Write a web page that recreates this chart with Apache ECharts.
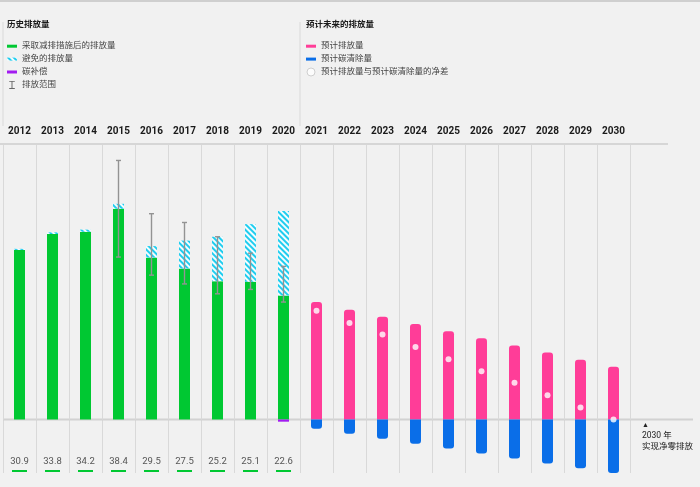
<!DOCTYPE html>
<html>
<head>
<meta charset="utf-8">
<script src="https://cdn.jsdelivr.net/npm/echarts@6/dist/echarts.min.js"></script>
<style>
  html, body { margin: 0; padding: 0; background: #f1f1f1; }
  #main { width: 700px; height: 487px; }
</style>
</head>
<body>
<div id="main"></div>
<script>
// 数据
var years = ['2012', '2013', '2014', '2015', '2016', '2017', '2018', '2019', '2020',
             '2021', '2022', '2023', '2024', '2025', '2026', '2027', '2028', '2029', '2030'];
var reduced   = [30.9, 33.8, 34.2, 38.4, 29.5, 27.5, 25.2, 25.1, 22.6];   // 采取减排措施后的排放量
var avoided   = [0.2, 0.3, 0.4, 0.9, 2.1, 5.1, 8.1, 10.5, 15.4];         // 避免的排放量
var offsets   = ['-', '-', '-', '-', '-', '-', '-', '-', -0.4];          // 碳补偿
var rangeLow  = [null, null, null, 29.6, 26.3, 24.7, 22.9, 23.7, 21.4];  // 排放范围
var rangeHigh = [null, null, null, 47.2, 37.5, 35.9, 33.3, 30.3, 27.9];
var planned   = [21.4, 20.0, 18.7, 17.4, 16.1, 14.8, 13.5, 12.2, 10.9, 9.6];        // 预计排放量
var removal   = [-1.7, -2.6, -3.5, -4.4, -5.3, -6.2, -7.1, -8.0, -8.9, -9.75];      // 预计碳清除量
var netDiff   = [19.8, 17.6, 15.5, 13.2, 11.0, 8.8, 6.7, 4.4, 2.2, 0];              // 净差

var nHist = reduced.length, nAll = years.length;

function histPad(arr) {
    var out = arr.slice();
    while (out.length < nAll) out.push('-');
    return out;
}
function futPad(arr) {
    var out = [];
    for (var i = 0; i < nHist; i++) out.push('-');
    return out.concat(arr);
}
var rangeData = [];
for (var i = 0; i < nHist; i++) {
    if (rangeLow[i] != null) rangeData.push([i, rangeLow[i], rangeHigh[i]]);
}

var GREEN = '#00c832', CYAN = '#1fcdef', PURPLE = '#a21cf0',
    PINK = '#ff3d98', BLUE = '#0a6ee8';
var BAR_ICON = 'path://M0,0H10V3H0Z';
var RANGE_ICON = 'path://M0,0H7V1.2H4.1V8.8H7V10H0V8.8H2.9V1.2H0Z';
var FONT = 'Roboto, "Noto Sans CJK SC", sans-serif';
var COL = 33, LEFT = 3, TOP = 144;

var myChart = echarts.init(document.getElementById('main'));
var option = {
    backgroundColor: '#f1f1f1',
    animation: false,
    textStyle: { fontFamily: FONT },
    title: [
        { text: '历史排放量', left: 7, top: 21, padding: 0,
          textStyle: { fontSize: 8.5, fontWeight: 'bold', color: '#1a1a1a', fontFamily: FONT } },
        { text: '预计未来的排放量', left: 306, top: 21, padding: 0,
          textStyle: { fontSize: 8.5, fontWeight: 'bold', color: '#1a1a1a', fontFamily: FONT } }
    ],
    legend: [
        { left: 7, top: 40, padding: 0, orient: 'vertical', itemWidth: 10, itemHeight: 8, itemGap: 0.5,
          selectedMode: false,
          textStyle: { fontSize: 8.5, color: '#444', lineHeight: 12.4, fontFamily: FONT },
          data: [
              { name: '采取减排措施后的排放量', icon: BAR_ICON },
              { name: '避免的排放量', icon: BAR_ICON },
              { name: '碳补偿', icon: BAR_ICON },
              { name: '排放范围', icon: RANGE_ICON, itemStyle: { color: '#666' } }
          ] },
        { left: 306, top: 40, padding: 0, orient: 'vertical', itemWidth: 10, itemHeight: 8, itemGap: 0.5,
          selectedMode: false,
          textStyle: { fontSize: 8.5, color: '#444', lineHeight: 12.4, fontFamily: FONT },
          data: [
              { name: '预计排放量', icon: BAR_ICON },
              { name: '预计碳清除量', icon: BAR_ICON },
              { name: '预计排放量与预计碳清除量的净差', icon: 'circle',
                itemStyle: { color: '#fff', borderColor: '#c4c4c4', borderWidth: 1 } }
          ] }
    ],
    grid: { left: LEFT, top: TOP, width: COL * nAll, bottom: 14 },
    xAxis: [
        { type: 'category', position: 'top', data: years,
          axisLine: { show: false },
          axisTick: { show: true, length: 19, lineStyle: { color: '#d9d9d9', width: 1 } },
          axisLabel: { interval: 0, margin: 8, fontSize: 10, fontWeight: 'bold', color: '#1a1a1a', fontFamily: FONT },
          splitLine: { show: true, lineStyle: { color: '#d9d9d9', width: 1 } } },
        { type: 'category', position: 'bottom', data: years,
          axisLine: { show: false }, axisTick: { show: false },
          axisLabel: { inside: true, interval: 0, margin: 1,
              formatter: function (v, i) {
                  if (i >= nHist) return '';
                  return '{v|' + reduced[i].toFixed(1) + '}\n{u| }';
              },
              rich: {
                  v: { fontSize: 9.5, color: '#555', lineHeight: 17, fontFamily: FONT },
                  u: { width: 15, height: 2, lineHeight: 2, fontSize: 2, backgroundColor: GREEN }
              } } }
    ],
    yAxis: { type: 'value', min: -9.75, max: 50.2, show: false, splitLine: { show: false } },
    series: [
        { name: '采取减排措施后的排放量', type: 'bar', stack: 'a', barWidth: 11,
          itemStyle: { color: GREEN }, data: histPad(reduced) },
        { name: '避免的排放量', type: 'bar', stack: 'a', barWidth: 11,
          itemStyle: { color: '#f4fcfe',
              decal: { symbol: 'rect', symbolSize: 1, dashArrayX: [1, 0], dashArrayY: [1.2, 1.2],
                       rotation: Math.PI / 4, color: CYAN } },
          data: histPad(avoided) },
        { name: '碳补偿', type: 'bar', stack: 'a', barWidth: 11,
          itemStyle: { color: PURPLE }, data: histPad(offsets) },
        { name: '预计排放量', type: 'bar', stack: 'a', barWidth: 11,
          itemStyle: { color: PINK, borderRadius: [3, 3, 0, 0] }, data: futPad(planned) },
        { name: '预计碳清除量', type: 'bar', stack: 'a', barWidth: 11,
          itemStyle: { color: BLUE, borderRadius: [0, 0, 3, 3] }, data: futPad(removal) },
        { name: '排放范围', type: 'custom', z: 5, data: rangeData,
          itemStyle: { color: '#666' },
          encode: { x: 0, y: [1, 2] },
          renderItem: function (params, api) {
              var lo = api.coord([api.value(0), api.value(1)]);
              var hi = api.coord([api.value(0), api.value(2)]);
              var st = { stroke: '#939393', lineWidth: 1.4 };
              return { type: 'group', children: [
                  { type: 'line', shape: { x1: lo[0], y1: lo[1], x2: hi[0], y2: hi[1] }, style: st },
                  { type: 'line', shape: { x1: hi[0] - 2.5, y1: hi[1], x2: hi[0] + 2.5, y2: hi[1] }, style: st },
                  { type: 'line', shape: { x1: lo[0] - 2.5, y1: lo[1], x2: lo[0] + 2.5, y2: lo[1] }, style: st }
              ] };
          } },
        { name: '预计排放量与预计碳清除量的净差', type: 'scatter', z: 6, symbolSize: 6,
          itemStyle: { color: '#ffffff' }, data: futPad(netDiff) }
    ]
};
myChart.setOption(option);

// 装饰线：顶部边框、表头横线、零线、图例分隔竖线
var zeroY = myChart.convertToPixel({ yAxisIndex: 0 }, 0);
myChart.setOption({
    graphic: [
        { type: 'rect', left: 0, top: 0, shape: { width: 700, height: 2 }, style: { fill: '#cfcfcf' } },
        { type: 'line', shape: { x1: 0, y1: TOP, x2: 668, y2: TOP }, style: { stroke: '#d6d6d6', lineWidth: 2 } },
        { type: 'line', shape: { x1: LEFT, y1: zeroY, x2: 693, y2: zeroY }, style: { stroke: '#d2d2d2', lineWidth: 2 } },
        { type: 'line', shape: { x1: LEFT, y1: 22, x2: LEFT, y2: 126 }, style: { stroke: '#d9d9d9', lineWidth: 1 } },
        { type: 'line', shape: { x1: LEFT + COL * nHist, y1: 22, x2: LEFT + COL * nHist, y2: 126 },
          style: { stroke: '#d9d9d9', lineWidth: 1 } },
        { type: 'text', left: 642, top: zeroY + 2,
          style: { text: '{t|▲}\n{s|2030 年}\n{s|实现净零排放}',
                   rich: { t: { fontSize: 7, lineHeight: 10, fill: '#222' },
                           s: { fontSize: 8.5, lineHeight: 11, fill: '#222', fontFamily: FONT } } } }
    ]
});
window.addEventListener('resize', function () { myChart.resize(); });
</script>
</body>
</html>
